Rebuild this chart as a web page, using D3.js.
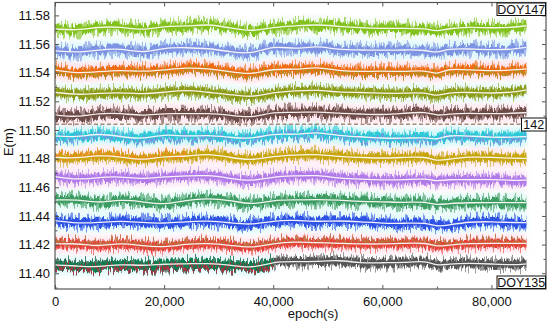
<!DOCTYPE html>
<html>
<head>
<meta charset="utf-8">
<script src="https://cdn.jsdelivr.net/npm/d3@7"></script>
<style>
body { margin: 0; background: #fff; }
svg { display: block; font-family: Arial, "Liberation Sans", sans-serif; }
</style>
</head>
<body>
<svg id="chart" width="550" height="326"></svg>
<script>
// sample epochs of the smoothed (white) curves
var epochs = [0, 4000, 8000, 12000, 16000, 20000, 24000, 28000, 32000, 36000, 40000, 44000,
              48000, 52000, 56000, 60000, 64000, 68000, 70000, 72000, 76000, 80000, 84000, 86400];

var days = [135, 136, 137, 138, 139, 140, 141, 142, 143, 144, 145, 146, 147];
// mean level of each day (m)
var levels = [11.4065, 11.4065, 11.4204, 11.4355, 11.4502, 11.4663, 11.4809,
              11.4956, 11.5112, 11.5261, 11.5414, 11.5561, 11.5714];

// smoothed curve, mm from the level
var d135 = [0, -1.4, -1.4, 0, -1.9, -1.4, -0.7, 0.5, -1.4, -3.0, 1.6, 1.6, 1.6, 2.8, 0.5, 0.9, 0.9, 2.3, -1.4, 0, 0.5, 0, -0.7, 0];
var d136 = [-0.7, -1.4, -2.3, 0, -1.4, 0, 0, 0.5, -0.7, -3.0, 0.8];
var d137 = [0, 0.5, -1.9, 0.9, -1.4, -2.3, 0, 0.5, -0.7, -3.0, 0.5, 1.6, 0.9, 0.5, 0, 0, 0.5, 0.9, -1.9, -0.7, 0.5, 0.5, 0.5, 0.5];
var d138 = [1.2, -0.7, -0.2, 1.2, -0.2, -0.7, 0.5, 1.2, -0.2, -1.9, 1.2, 1.6, 0.5, 1.2, 0.5, -0.7, -0.7, -0.2, -3.0, -1.9, 0.5, 0.5, -0.2, -0.2];
var d139 = [0.9, 1.4, -1.4, 1.4, -0.2, -2.6, 0.9, 2.1, 0.9, -2.6, 0.9, 0.9, 1.4, 0.9, -0.2, -0.2, -0.9, -0.2, -2.8, -1.4, -0.9, -0.9, -0.9, -0.9];
var d140 = [1.2, -1.2, 0.7, 1.2, -0.7, 1.2, 1.6, 2.3, 0, -2.3, 1.2, 1.6, 2.3, 0, -0.7, -1.2, -1.2, 0, -2.3, -0.7, -1.2, -0.7, -1.6, -1.2];
var d141 = [0, -0.7, 1.6, 0.5, -2.3, 0.9, 0.5, 2.8, 0, -2.3, 0.9, 1.6, 2.3, 0.5, 0, -0.7, 0, 0.5, -2.6, -1.4, 0.5, 0, -0.7, -0.7];
var d142 = [0.2, -0.7, 2.1, -0.2, -2.1, 1.6, -0.2, 0.9, -0.7, -2.1, 2.1, 0.9, 3.3, 0.2, -0.2, -1.4, -1.4, -0.7, -2.6, 0.9, 0.2, -0.7, -0.7, -0.2];
var d143 = [-0.7, -2.3, 0.5, 0.5, -1.4, 0.5, 0, 0.5, -0.7, -3.0, 1.6, 0.9, 1.6, 0.5, 0, -0.7, 0.5, 1.6, -1.4, 0, 0.5, 0, 0.5, 0.9];
var d144 = [0.2, -1.6, -0.5, 0.2, -1.2, 0.2, 1.9, 0.2, -1.2, -3.5, 0.2, 1.2, 1.9, 0.2, 0.2, -0.5, -0.5, 0.2, -2.8, 0.2, 0.2, -0.5, 0.2, 1.9];
var d145 = [0.5, -1.9, -0.7, 0.5, -0.7, 0.5, 2.1, 1.6, -0.7, -3.0, 1.6, 0.5, 2.8, -0.2, -0.7, -0.2, -0.7, 0.5, -3.0, 1.6, 0.5, -0.2, 0.5, 1.2];
var d146 = [-0.9, -2.1, -0.2, 0.9, -2.6, 1.4, 1.4, 0.9, -1.4, -3.3, 2.8, 0.2, 2.8, -0.2, -0.2, -0.5, -0.2, -0.2, -2.6, 0.9, 0.5, -0.2, 0.2, 1.6];
var d147 = [-0.9, -1.9, 0.5, 0.7, -1.9, 1.2, 0.9, 2.6, 0, -2.8, 0.5, 1.2, 2.3, 0.9, 0, -0.5, -0.5, -0.5, -2.8, -0.5, 0.5, -0.2, 0.2, 1.4];
var curves = [d135, d136, d137, d138, d139, d140, d141, d142, d143, d144, d145, d146, d147];

var xTicks = [0, 20000, 40000, 60000, 80000];
var xMinor = [10000, 30000, 50000, 70000];
var yTicks = [11.40, 11.42, 11.44, 11.46, 11.48, 11.50, 11.52, 11.54, 11.56, 11.58];
var yMinor = [11.39, 11.41, 11.43, 11.45, 11.47, 11.49, 11.51, 11.53, 11.55, 11.57];
var divider = 11.504;

// styles
var colors = ["#555555", "#0e7c4e", "#e8403a", "#2e52e6", "#3c9c62", "#b07ae8", "#c6a60c",
              "#2ccad6", "#6d4b47", "#8d9c16", "#f06c12", "#7c92e2", "#82c21c"];
var washes = [null, "#dcf8fa", "#ffe1ea", "#d8f7fa", "#d9f8f3", "#fae1f2", "#ffe4ec",
              "#c4f4f7", "#ffe1ea", "#e0f8f6", "#ffd9e4", "#d5f5fa", "#ecf8ee"];
// second colour mixed into some bands: [day index, colour, from, to, shift mm]
var accents = [[1, "#c8203c", 0, 40000, -1.6], [2, "#b07a3c", 0, 86400, 1.3],
               [6, "#f5801e", 0, 26000, 1.2], [7, "#7a8ee0", 0, 86400, -1.4],
               [10, "#a8901c", 0, 86400, -1.6]];

var svg = d3.select("#chart");
var x = d3.scaleLinear().domain([0, 90000]).range([55, 546]);
var y = d3.scaleLinear().domain([11.389, 11.589]).range([289, 2.5]);

var defs = svg.append("defs");
function jitter(id, scale, seed, freq) {
  var f = defs.append("filter").attr("id", id)
    .attr("filterUnits", "userSpaceOnUse")
    .attr("x", 0).attr("y", 0).attr("width", 550).attr("height", 326)
    .attr("color-interpolation-filters", "sRGB");
  f.append("feTurbulence").attr("type", "fractalNoise")
    .attr("baseFrequency", freq + " 0.012").attr("numOctaves", 2)
    .attr("seed", seed).attr("result", "t");
  f.append("feColorMatrix").attr("in", "t").attr("type", "matrix")
    .attr("values", "0 0 0 0 0.5  0 2.4 0 0 -0.7  0 0 0 0 0  0 0 0 0 1")
    .attr("result", "m");
  f.append("feDisplacementMap").attr("in", "SourceGraphic").attr("in2", "m")
    .attr("scale", scale).attr("xChannelSelector", "R").attr("yChannelSelector", "G");
}
jitter("jitA", 5, 3, 0.45);
jitter("jitB", 10, 11, 0.6);
defs.append("filter").attr("id", "soft")
  .append("feGaussianBlur").attr("stdDeviation", 2.5);
defs.append("clipPath").attr("id", "plotClip").append("rect")
  .attr("x", 55).attr("y", 2.5).attr("width", 491).attr("height", 286.5);

function points(i) {
  return curves[i].map(function(v, k) { return { e: epochs[k], v: levels[i] + v / 1000 }; });
}
function band(hw, shift) {
  shift = shift || 0;
  return d3.area().curve(d3.curveBasis)
    .x(function(d) { return x(d.e); })
    .y0(function(d) { return y(d.v + (shift - hw) / 1000); })
    .y1(function(d) { return y(d.v + (shift + hw) / 1000); });
}
var whiteLine = d3.line().curve(d3.curveBasis)
  .x(function(d) { return x(d.e); })
  .y(function(d) { return y(d.v); });

var plot = svg.append("g").attr("clip-path", "url(#plotClip)");

//washes behind bands--------------------------------------------------------------
var washG = plot.append("g").attr("filter", "url(#soft)");
days.forEach(function(day, i) {
  if (!washes[i]) return;
  washG.append("path").attr("d", band(6.5)(points(i)))
    .attr("fill", washes[i]).attr("opacity", 0.8);
});

//bands and smoothed lines--------------------------------------------------------
days.forEach(function(day, i) {
  var pts = points(i);
  var g = plot.append("g").attr("class", "doy" + day);
  g.append("path").attr("d", band(3.4)(pts))
    .attr("fill", colors[i]).attr("opacity", 0.6)
    .attr("filter", "url(#jitB)");
  g.append("path").attr("d", band(2.6)(pts))
    .attr("fill", colors[i])
    .attr("filter", "url(#jitA)");
  accents.forEach(function(a) {
    if (a[0] !== i) return;
    var sub = pts.filter(function(d) { return d.e >= a[2] && d.e <= a[3]; });
    g.append("path").attr("d", band(1.3, a[4])(sub))
      .attr("fill", a[1]).attr("opacity", 0.75)
      .attr("filter", "url(#jitB)");
  });
  g.append("path").attr("d", whiteLine(pts))
    .attr("fill", "none").attr("stroke", "#fffafa")
    .attr("stroke-width", 1.3).attr("opacity", 0.95);
});

//dashed divider-------------------------------------------------------------------
svg.append("line")
  .attr("x1", x(0)).attr("x2", 521)
  .attr("y1", y(divider)).attr("y2", y(divider))
  .attr("stroke", "#a58a76").attr("stroke-width", 1.6)
  .attr("stroke-dasharray", "4,2.5");

//axes----------------------------------------------------------------------------
function styleAxis(g) {
  g.select(".domain").remove();
  g.selectAll("line").attr("stroke", "#555");
  g.selectAll("text").attr("font-size", 13).attr("fill", "#111")
    .attr("font-family", "Arial, 'Liberation Sans', sans-serif");
}
svg.append("g").attr("transform", "translate(0,289)")
  .call(d3.axisBottom(x).tickValues(xTicks).tickFormat(d3.format(","))
    .tickSizeInner(-4).tickSizeOuter(0).tickPadding(8)).call(styleAxis);
svg.append("g").attr("transform", "translate(0,289)")
  .call(d3.axisBottom(x).tickValues(xMinor).tickFormat("")
    .tickSizeInner(-2.5).tickSizeOuter(0)).call(styleAxis);
svg.append("g").attr("transform", "translate(0,2.5)")
  .call(d3.axisTop(x).tickValues(xTicks).tickFormat("")
    .tickSizeInner(-4).tickSizeOuter(0)).call(styleAxis);
svg.append("g").attr("transform", "translate(0,2.5)")
  .call(d3.axisTop(x).tickValues(xMinor).tickFormat("")
    .tickSizeInner(-2.5).tickSizeOuter(0)).call(styleAxis);
svg.append("g").attr("transform", "translate(55,0)")
  .call(d3.axisLeft(y).tickValues(yTicks).tickFormat(d3.format(".2f"))
    .tickSizeInner(-4).tickSizeOuter(0).tickPadding(5)).call(styleAxis);
svg.append("g").attr("transform", "translate(55,0)")
  .call(d3.axisLeft(y).tickValues(yMinor).tickFormat("")
    .tickSizeInner(-2.5).tickSizeOuter(0)).call(styleAxis);
svg.append("g").attr("transform", "translate(546,0)")
  .call(d3.axisRight(y).tickValues(yTicks).tickFormat("")
    .tickSizeInner(-4).tickSizeOuter(0)).call(styleAxis);
svg.append("g").attr("transform", "translate(546,0)")
  .call(d3.axisRight(y).tickValues(yMinor).tickFormat("")
    .tickSizeInner(-2.5).tickSizeOuter(0)).call(styleAxis);

svg.append("rect").attr("x", 55).attr("y", 2.5).attr("width", 491).attr("height", 286.5)
  .attr("fill", "none").attr("stroke", "#555").attr("stroke-width", 1.2);

svg.append("text").attr("x", 313).attr("y", 318).attr("text-anchor", "middle")
  .attr("font-size", 13).attr("fill", "#111").text("epoch(s)");
svg.append("text").attr("transform", "translate(13,142) rotate(-90)")
  .attr("text-anchor", "middle").attr("font-size", 13).attr("fill", "#111").text("E(m)");

//day labels------------------------------------------------------------------------
function boxLabel(x0, y0, w, h, label) {
  svg.append("rect").attr("x", x0).attr("y", y0).attr("width", w).attr("height", h)
    .attr("fill", "#fff").attr("stroke", "#111").attr("stroke-width", 1);
  svg.append("text").attr("x", x0 + w / 2).attr("y", y0 + h - 2)
    .attr("text-anchor", "middle").attr("font-size", 12.5).attr("fill", "#111").text(label);
}
boxLabel(497, 3, 48.5, 12.5, "DOY" + days[days.length - 1]);
boxLabel(521.5, 118, 24.5, 13, String(days[7]));
boxLabel(497, 276, 48.5, 12.5, "DOY" + days[0]);
</script>
</body>
</html>
